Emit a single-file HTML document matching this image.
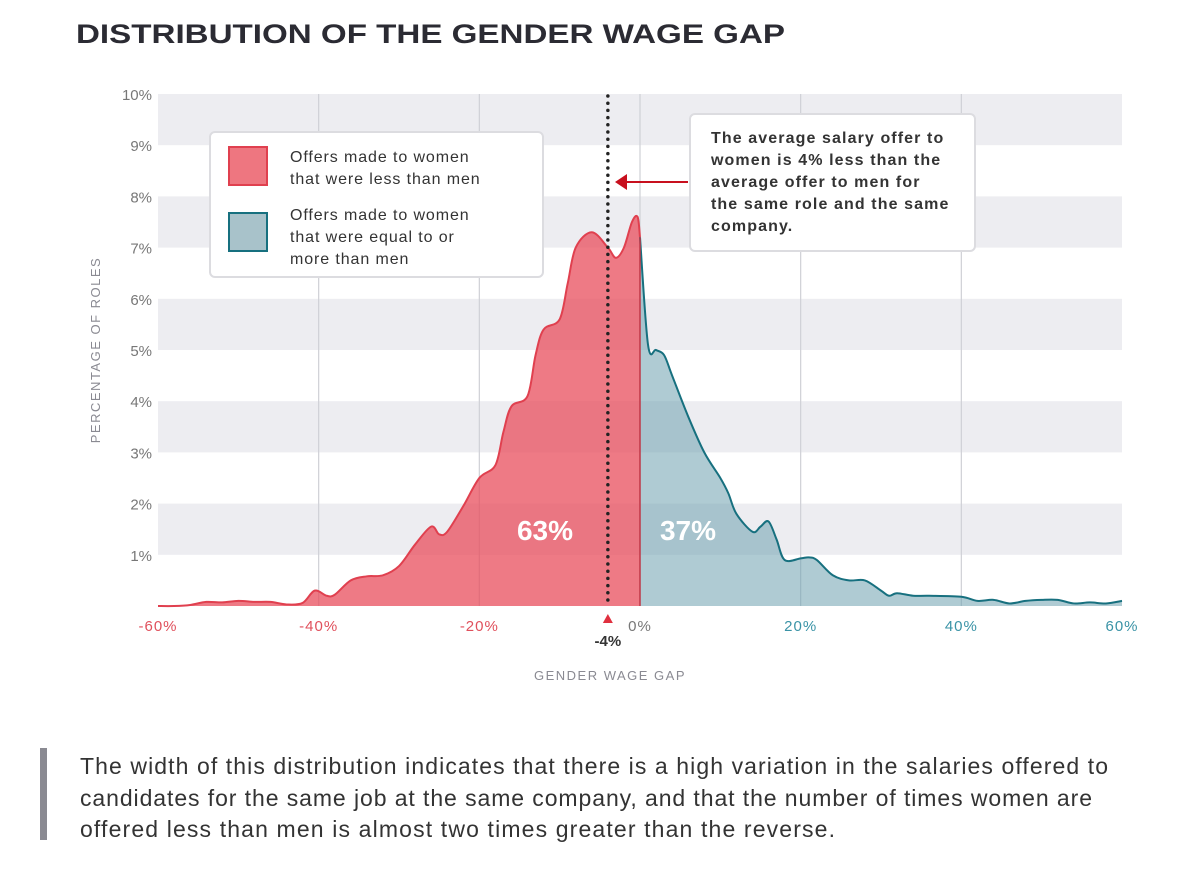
<!DOCTYPE html>
<html><head><meta charset="utf-8"><style>
body{margin:0;background:#fff;width:1200px;height:864px;overflow:hidden;font-family:"Liberation Sans",sans-serif}
svg text{font-family:"Liberation Sans",sans-serif}
</style></head><body>
<svg width="1200" height="864">
<text x="76" y="43" font-size="27" font-weight="bold" fill="#2b2b33" textLength="709" lengthAdjust="spacingAndGlyphs">DISTRIBUTION OF THE GENDER WAGE GAP</text>
<g id="bands"></g><g id="grid"></g><g id="areas"></g><g id="yt"></g><g id="xt"></g>
<text transform="translate(100,350) rotate(-90)" text-anchor="middle" font-size="13" fill="#8a8a92" letter-spacing="1.5">PERCENTAGE OF ROLES</text>
<text x="610" y="680" text-anchor="middle" font-size="13" fill="#8a8a92" letter-spacing="1.5">GENDER WAGE GAP</text>
<text x="545" y="540" text-anchor="middle" font-size="28" font-weight="bold" fill="#fff">63%</text>
<text x="688" y="540" text-anchor="middle" font-size="28" font-weight="bold" fill="#fff">37%</text>
<g id="mean"></g>
<g>
<rect x="210" y="132" width="333" height="145" rx="5" fill="#fff" stroke="#dcdce0" stroke-width="2"/>
<rect x="229" y="147" width="38" height="38" fill="#ee7680" stroke="#e0404f" stroke-width="2"/>
<text x="290" y="162" font-size="16" fill="#333" letter-spacing="0.9"><tspan x="290">Offers made to women</tspan><tspan x="290" dy="22">that were less than men</tspan></text>
<rect x="229" y="213" width="38" height="38" fill="#a8c2ca" stroke="#17707f" stroke-width="2"/>
<text x="290" y="220" font-size="16" fill="#333" letter-spacing="0.9"><tspan x="290">Offers made to women</tspan><tspan x="290" dy="22">that were equal to or</tspan><tspan x="290" dy="22">more than men</tspan></text>
</g>
<g>
<rect x="690" y="114" width="285" height="137" rx="5" fill="#fff" stroke="#dcdce0" stroke-width="2"/>
<text font-size="16" font-weight="bold" fill="#333" letter-spacing="1.1"><tspan x="711" y="143">The average salary offer to</tspan><tspan x="711" dy="22">women is 4% less than the</tspan><tspan x="711" dy="22">average offer to men for</tspan><tspan x="711" dy="22">the same role and the same</tspan><tspan x="711" dy="22">company.</tspan></text>
<line x1="688" y1="182" x2="626" y2="182" stroke="#c8101e" stroke-width="2"/>
<polygon points="615,182 627,174 627,190" fill="#c8101e"/>
</g>
<rect x="40" y="748" width="7" height="92" fill="#8a8a92"/>
<text font-size="23" fill="#333"><tspan x="80" y="774" textLength="1028" lengthAdjust="spacing">The width of this distribution indicates that there is a high variation in the salaries offered to</tspan><tspan x="80" y="806" textLength="1012" lengthAdjust="spacing">candidates for the same job at the same company, and that the number of times women are</tspan><tspan x="80" y="837" textLength="755" lengthAdjust="spacing">offered less than men is almost two times greater than the reverse.</tspan></text>
</svg>
<script>
const gapX=[-60,-58,-56,-54,-52,-50,-48,-46,-44,-42,-40.5,-39,-38,-36,-34,-32,-30,-28,-26,-25,-24,-22,-20,-18,-17,-16,-14,-13,-12,-10,-9,-8,-6,-4,-3,-2,-1,-0.3,0,1,2,3,4,6,8,10,11,12,14,15,16,17,18,20,21,22,24,26,28,30,31,32,34,36,40,42,44,46,48,50,52,54,56,58,60];
const share=[0,0,0.02,0.08,0.07,0.1,0.08,0.08,0.03,0.06,0.3,0.2,0.22,0.5,0.58,0.6,0.78,1.2,1.55,1.4,1.45,1.95,2.5,2.75,3.4,3.9,4.1,4.9,5.4,5.6,6.3,7.0,7.3,7.0,6.8,7.0,7.5,7.6,7.2,5.1,5.0,4.9,4.5,3.7,3.0,2.5,2.2,1.8,1.45,1.55,1.65,1.3,0.9,0.93,0.95,0.9,0.6,0.5,0.5,0.3,0.2,0.25,0.2,0.2,0.18,0.1,0.12,0.05,0.1,0.12,0.12,0.05,0.07,0.05,0.1];
const xTicks=[-60,-40,-20,0,20,40,60];
const yTicks=[1,2,3,4,5,6,7,8,9,10];
const meanGap=-4;
const NS="http://www.w3.org/2000/svg";
const X=v=>640+v*(482/60), Y=v=>606-v*51.2;
function mk(t,a,p){const e=document.createElementNS(NS,t);for(const k in a)e.setAttribute(k,a[k]);document.getElementById(p).appendChild(e);return e;}
for(let i=1;i<10;i+=2){const r=mk('rect',{x:158,y:Y(i+1),width:964,height:Y(i)-Y(i+1),fill:'#ededf1'},'bands');

}
xTicks.forEach(t=>{if(t!==-60&&t!==60){const l=mk('line',{x1:X(t),x2:X(t),y1:Y(10),y2:Y(0),stroke:'#cfd0d6','stroke-width':1.2},'grid');

}
const tx=mk('text',{x:X(t),y:631,'text-anchor':'middle','font-size':15,'letter-spacing':1,fill:t<0?'#e0505c':t>0?'#3a93a6':'#777'},'xt');tx.textContent=t+'%';

});
yTicks.forEach(t=>{const tx=mk('text',{x:152,y:Y(t)+6,'text-anchor':'end','font-size':15,fill:'#777'},'yt');tx.textContent=t+'%';

});
function path(pts){let d='M'+pts[0][0]+','+pts[0][1];for(let i=0;i<pts.length-1;i++){const p0=pts[Math.max(i-1,0)],p1=pts[i],p2=pts[i+1],p3=pts[Math.min(i+2,pts.length-1)];
d+=' C'+(p1[0]+(p2[0]-p0[0])/6)+','+(p1[1]+(p2[1]-p0[1])/6)+' '+(p2[0]-(p3[0]-p1[0])/6)+','+(p2[1]-(p3[1]-p1[1])/6)+' '+p2[0]+','+p2[1];}return d;}
const neg=[],pos=[];gapX.forEach((g,i)=>{const p=[X(g),Y(share[i])];if(g<=0)neg.push(p);if(g>=0)pos.push(p);});
const dn=path(neg),dp=path(pos);
let a=mk('path',{d:dn+` L${X(0)},${Y(0)} L${X(-60)},${Y(0)}Z`,fill:'rgba(232,75,90,0.74)'},'areas');


a=mk('path',{d:dp+` L${X(60)},${Y(0)} L${X(0)},${Y(0)}Z`,fill:'rgba(110,160,175,0.55)'},'areas');


a=mk('path',{d:dn,fill:'none',stroke:'#e0404f','stroke-width':2},'areas');


a=mk('path',{d:dp,fill:'none',stroke:'#17707f','stroke-width':2},'areas');


a=mk('line',{x1:X(0),x2:X(0),y1:Y(share[gapX.indexOf(0)]),y2:Y(0),stroke:'#c03848','stroke-width':1.5},'areas');


const mx=X(meanGap);
a=mk('line',{x1:mx,x2:mx,y1:Y(10)+2,y2:Y(0),stroke:'#222','stroke-width':3.5,'stroke-dasharray':'0 7.2','stroke-linecap':'round'},'mean');


a=mk('polygon',{points:`${mx},614 ${mx-5},623 ${mx+5},623`,fill:'#e0303f'},'mean');


a=mk('text',{x:mx,y:646,'text-anchor':'middle','font-size':15,'font-weight':'bold',fill:'#333'},'mean');a.textContent=meanGap+'%';


</script>
</body></html>
